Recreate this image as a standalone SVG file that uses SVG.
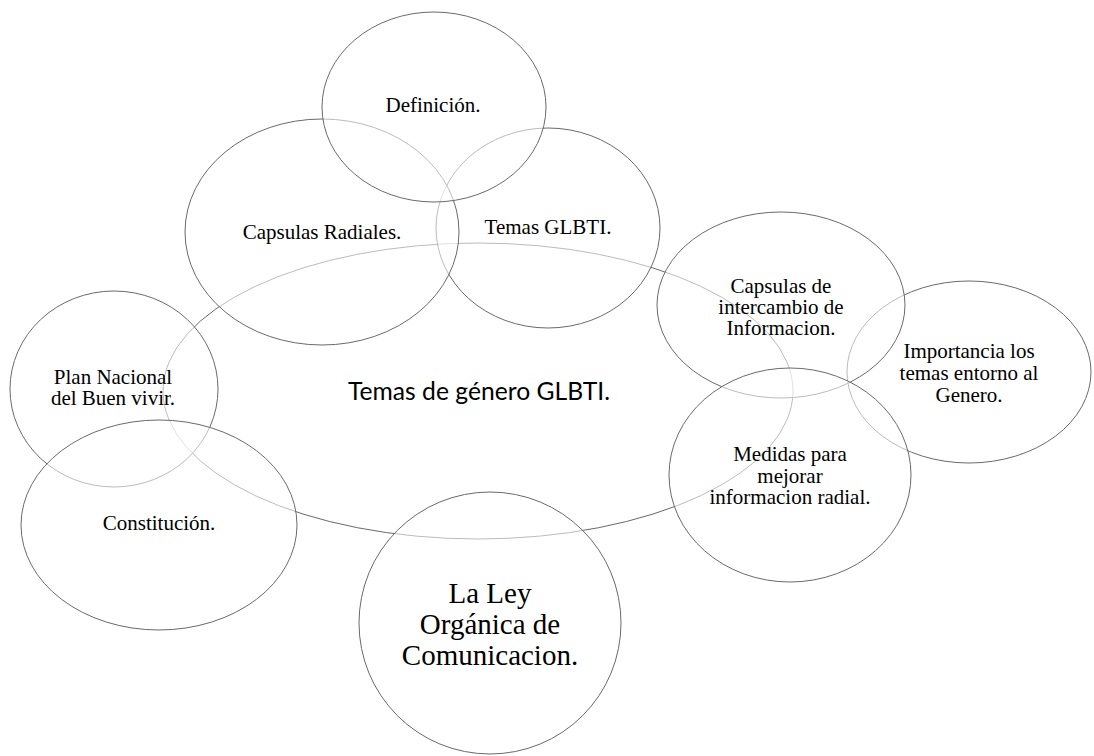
<svg xmlns="http://www.w3.org/2000/svg" width="1094" height="756" viewBox="0 0 1094 756">
<style>
.shape{fill:#ffffff;fill-opacity:0.55;stroke:#6a6a6a;stroke-width:1}
.lbl{font-family:"Liberation Serif","Times New Roman",Times,serif;font-size:21px;fill:#000;text-anchor:middle;dominant-baseline:central}
.big{font-size:29px}
.sans{font-family:Lato,"Liberation Sans",sans-serif;font-size:25px;fill:#000;text-anchor:middle;dominant-baseline:central}
</style>
<rect width="1094" height="756" fill="#ffffff"/>
<g id="connectors"></g>
<g id="center">
<ellipse class="shape" cx="478" cy="391" rx="315" ry="148"/>
<text class="sans" x="479" y="390" textLength="262" lengthAdjust="spacingAndGlyphs">Temas de género GLBTI.</text>
</g>
<g id="importancia">
<ellipse class="shape" cx="969" cy="372" rx="122" ry="91"/>
<text class="lbl" font-family="Liberation Serif, serif" x="969" y="351">Importancia los</text>
<text class="lbl" font-family="Liberation Serif, serif" x="969" y="373">temas entorno al</text>
<text class="lbl" font-family="Liberation Serif, serif" x="969" y="395">Genero.</text>
</g>
<g id="capsulas-intercambio">
<ellipse class="shape" cx="781" cy="305" rx="124" ry="93"/>
<text class="lbl" font-family="Liberation Serif, serif" x="781" y="286">Capsulas de</text>
<text class="lbl" font-family="Liberation Serif, serif" x="781" y="307">intercambio de</text>
<text class="lbl" font-family="Liberation Serif, serif" x="781" y="328">Informacion.</text>
</g>
<g id="medidas">
<ellipse class="shape" cx="790" cy="475" rx="121" ry="107"/>
<text class="lbl" font-family="Liberation Serif, serif" x="790" y="454">Medidas para</text>
<text class="lbl" font-family="Liberation Serif, serif" x="790" y="476">mejorar</text>
<text class="lbl" font-family="Liberation Serif, serif" x="790" y="497">informacion radial.</text>
</g>
<g id="la-ley">
<ellipse class="shape" cx="490" cy="623" rx="131" ry="131"/>
<text class="lbl big" font-family="Liberation Serif, serif" x="490" y="593">La Ley</text>
<text class="lbl big" font-family="Liberation Serif, serif" x="490" y="624">Orgánica de</text>
<text class="lbl big" font-family="Liberation Serif, serif" x="490" y="655">Comunicacion.</text>
</g>
<g id="plan-nacional">
<ellipse class="shape" cx="114" cy="389" rx="104" ry="98"/>
<text class="lbl" font-family="Liberation Serif, serif" x="113" y="377">Plan Nacional</text>
<text class="lbl" font-family="Liberation Serif, serif" x="113" y="398">del Buen vivir.</text>
</g>
<g id="constitucion">
<ellipse class="shape" cx="159" cy="525" rx="138" ry="105"/>
<text class="lbl" font-family="Liberation Serif, serif" x="159" y="523">Constitución.</text>
</g>
<g id="temas-glbti">
<ellipse class="shape" cx="548" cy="228" rx="112" ry="100"/>
<text class="lbl" font-family="Liberation Serif, serif" x="548" y="227">Temas GLBTI.</text>
</g>
<g id="capsulas-radiales">
<ellipse class="shape" cx="322" cy="232" rx="137" ry="113"/>
<text class="lbl" font-family="Liberation Serif, serif" x="322" y="232">Capsulas Radiales.</text>
</g>
<g id="definicion">
<ellipse class="shape" cx="434" cy="107" rx="112" ry="95"/>
<text class="lbl" font-family="Liberation Serif, serif" x="433" y="105">Definición.</text>
</g>
</svg>
